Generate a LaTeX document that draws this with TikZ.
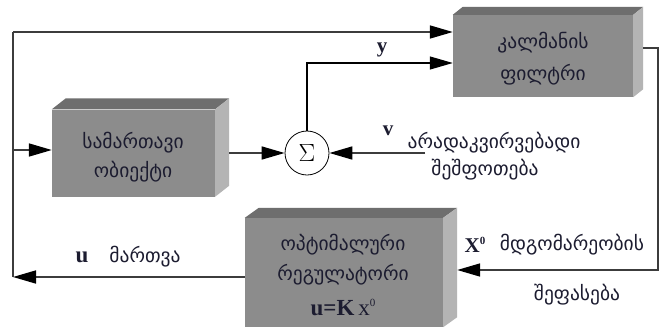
\documentclass[tikz,border=0pt]{standalone}
\usepackage{fontspec}
\newfontfamily\geo{DejaVu Sans}
\newfontfamily\tms{Liberation Serif}
\usetikzlibrary{arrows.meta}
\definecolor{boxfront}{HTML}{8C8C8C}
\definecolor{boxtop}{HTML}{6E6E6E}
\definecolor{boxside}{HTML}{B4B4B4}
\definecolor{wirecol}{HTML}{3C3C3C}
\definecolor{txtcol}{HTML}{1C1C30}
\newcommand{\threedbox}[3]{%
  \fill[boxtop] (#1.north west) -- ++(#2,#3) -- ([shift={(#2,#3)}]#1.north east) -- (#1.north east) -- cycle;
  \fill[boxside] (#1.north east) -- ++(#2,#3) -- ([shift={(#2,#3)}]#1.south east) -- (#1.south east) -- cycle;}
\begin{document}
\begin{tikzpicture}[x=1pt,y=-1pt,
  wire/.style={draw=wirecol, line width=1.7pt},
  arr/.style={wire, -{Triangle[length=23pt,width=13pt,fill=black,color=black]}},
  thinarr/.style={draw=black, line width=1.2pt, -{Triangle[length=23pt,width=13pt]}},
  geotext/.style={font=\geo\fontsize{19.5}{22}\selectfont, text=txtcol, inner sep=0pt, anchor=center},
  lbl/.style={font=\tms\bfseries\fontsize{21}{21}\selectfont, text=txtcol, inner sep=0pt},
  frontface/.style={fill=boxfront, inner sep=0pt, minimum width=#1},
  sumnode/.style={circle, draw=black, line width=0.8pt, fill=white, minimum size=44pt, inner sep=0pt, font=\fontsize{24}{24}\selectfont}
]
\useasboundingbox (0,0) rectangle (662,327);
\fill[white] (0,0) rectangle (662,327);

% boxes (front faces)
\node[frontface=180pt, minimum height=82pt] (kal) at (543,56) {};
\node[frontface=163pt, minimum height=87pt] (sam) at (133.5,153) {};
\node[frontface=198pt, minimum height=109pt] (reg) at (344,272.5) {};
\threedbox{kal}{10}{-8}
\threedbox{sam}{14}{-11}
\threedbox{reg}{14}{-10}

% box texts
\node[geotext] (kal1) at (543,43) {კალმანის};
\node[geotext] (kal2) at (543,75) {ფილტრი};
\node[geotext] (sam1) at (133,143) {სამართავი};
\node[geotext] (sam2) at (133,172) {ობიექტი};
\node[geotext] (reg1) at (343,245) {ოპტიმალური};
\node[geotext] (reg2) at (343,275) {რეგულატორი};
\node[font=\tms\fontsize{23}{23}\selectfont, text=txtcol, inner sep=0pt] (reg3) at (343,307) {\textbf{u=K}\,x\raisebox{9pt}{\fontsize{11}{11}\selectfont 0}};

% summing junction
\node[sumnode] (sum) at (307,153) {$\Sigma$};

% coordinates
\coordinate (bl) at (13,277);
\coordinate (tl) at (13,32);
\coordinate (ml) at (13,150);
\coordinate (ky) at (0,63);
\coordinate (vin) at (425,153);
\coordinate (rr) at (658,48);
\coordinate (rb) at (658,270);

% wires
\draw[arr] (reg.west |- bl) -- (bl);
\draw[wire] (bl) -- (tl);
\draw[arr] (tl) -- (tl -| kal.west);
\draw[arr] (ml) -- (ml -| sam.west);
\draw[arr] ([xshift=14pt]sam.east) -- (sum.west);
\draw[thinarr] (sum.north) |- (kal.west |- ky);
\draw[arr] (vin) -- (sum.east);
\draw[arr] ([xshift=10pt]kal.east |- rr) -- (rr) -- (rb) -- ([xshift=14pt]reg.east |- rb);

% labels
\node[lbl] (ylab) at (382,50) {y};
\node[lbl] (vlab) at (388,131) {v};
\node[lbl, font=\tms\bfseries\fontsize{23}{23}\selectfont] (ulab) at (82,257) {u};
\node[geotext] (mart) at (145,257) {მართვა};
\node[lbl] (xlab) at (475,245) {X\raisebox{8pt}{\fontsize{11}{11}\selectfont 0}};
\node[geotext] (mdg) at (572,245) {მდგომარეობის};
\node[geotext] (shef) at (577,295) {შეფასება};
\node[geotext] (arad1) at (494,143) {არადაკვირვებადი};
\node[geotext] (arad2) at (485,170) {შეშფოთება};
\end{tikzpicture}
\end{document}
